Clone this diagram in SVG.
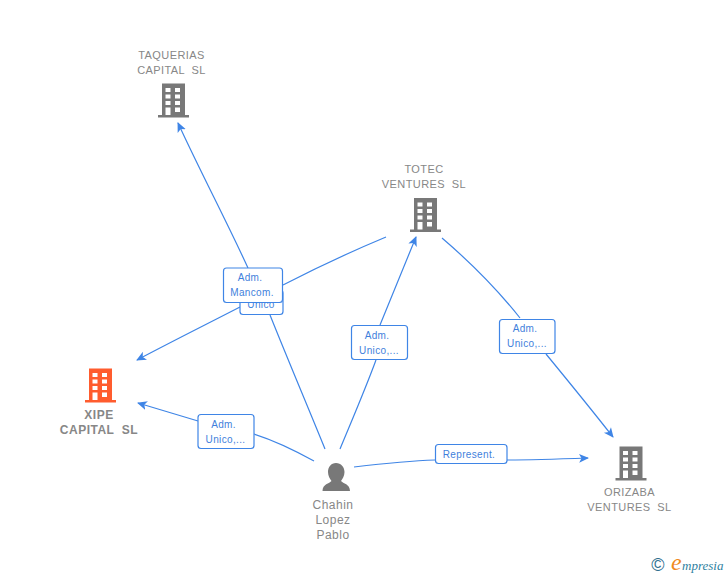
<svg xmlns="http://www.w3.org/2000/svg" width="728" height="575" viewBox="0 0 728 575">
<style>
text{font-family:"Liberation Sans",Arial,sans-serif}
.n{font-size:11px;fill:#878787;text-anchor:middle;letter-spacing:.4px}
.p{font-size:12px;letter-spacing:.5px}
.b{font-weight:bold;font-size:12px;letter-spacing:.5px}
.c{fill:none;stroke:#3f85e6;stroke-width:1.2}
.l{fill:#fff;stroke:#3f85e6;stroke-width:1.2}
.t{font-size:10px;fill:#3f7fdc;text-anchor:middle;letter-spacing:.35px}
</style>
<defs>
<marker id="a" markerUnits="userSpaceOnUse" markerWidth="12" markerHeight="12" refX="9" refY="5" orient="auto" viewBox="0 0 12 10">
<path d="M0 0.500L10 5L0 9.500L2.500 5Z" fill="#3f85e6"/>
</marker>
<path id="bld" fill-rule="evenodd" d="M4 0H27V31.500H31V34H0V31.500H4ZM7.500 4.500V8.500H12.500V4.500ZM17 4.500V8.500H22V4.500ZM7.500 11V15H12.500V11ZM17 11V15H22V11ZM7.500 17.500V21.500H12.500V17.500ZM17 17.500V21.500H22V17.500ZM7.500 24V31.500H12.500V24ZM17 24V28.500H22V24Z"/>
</defs>
<g id="connectors">
<path class="c" marker-end="url(#a)" d="M325 449C310 412 288 360 270 315M248 268C226 220 202 175 178 123"/>
<path class="c" marker-end="url(#a)" d="M386 237C350 252 316 268 283 285M240 307C205 325 171 342 137 360"/>
<path class="c" marker-end="url(#a)" d="M314 461C296 451 276 441 254 434M198 421C178 415 158 409 138 403"/>
<path class="c" marker-end="url(#a)" d="M340 449C352 420 365 390 376 360M380 325C392 295 404 266 416 237"/>
<path class="c" marker-end="url(#a)" d="M442 238C470 262 497 289 520 318M546 354C569 382 591 409 613 437"/>
<path class="c" marker-end="url(#a)" d="M354 467C380 464 408 461 435 460M507 460C534 460 561 459 588 458"/>
</g>
<g id="node-taquerias">
<text class="n" x="171.500" y="59">TAQUERIAS</text>
<text class="n" x="171.500" y="74" xml:space="preserve">CAPITAL  SL</text>
<use href="#bld" x="158" y="83.500" fill="#787878"/>
</g>
<g id="node-totec">
<text class="n" x="424" y="173">TOTEC</text>
<text class="n" x="424" y="188" xml:space="preserve">VENTURES  SL</text>
<use href="#bld" x="410" y="198" fill="#787878"/>
</g>
<g id="node-xipe">
<use href="#bld" x="85" y="368.500" fill="#ff5c2e"/>
<text class="n b" x="99" y="419">XIPE</text>
<text class="n b" x="99" y="434" xml:space="preserve">CAPITAL  SL</text>
</g>
<g id="node-orizaba">
<use href="#bld" x="615.500" y="446.500" fill="#787878"/>
<text class="n" x="629.500" y="496">ORIZABA</text>
<text class="n" x="629.500" y="511" xml:space="preserve">VENTURES  SL</text>
</g>
<g id="node-chahin">
<path d="M336 463C341 463 344.500 467 344.500 472C344.500 476 342.500 479 341 481C343 483.500 350 484 350 491H322.500C322.500 484 329.500 483.500 331.500 481C330 479 328 476 328 472C328 467 331 463 336 463Z" fill="#787878"/>
<text class="n p" x="333" y="508.500">Chahin</text>
<text class="n p" x="333" y="523.500">Lopez</text>
<text class="n p" x="333" y="538.500">Pablo</text>
</g>
<g id="label-unico">
<rect class="l" x="240" y="290" width="43" height="24.500" rx="3"/>
<text class="t" x="261" y="308">Unico</text>
</g>
<g id="label-mancom">
<rect class="l" x="223.500" y="268" width="59" height="34.500" rx="3"/>
<text class="t" x="250" y="281">Adm.</text>
<text class="t" x="252" y="296">Mancom.</text>
</g>
<g id="label-xipe">
<rect class="l" x="198" y="414.500" width="56" height="34" rx="3"/>
<text class="t" x="223.500" y="428">Adm.</text>
<text class="t" x="225.500" y="443">Unico,...</text>
</g>
<g id="label-totec">
<rect class="l" x="351.500" y="325.500" width="56" height="34" rx="3"/>
<text class="t" x="377" y="339">Adm.</text>
<text class="t" x="379" y="354">Unico,...</text>
</g>
<g id="label-orizaba">
<rect class="l" x="499.500" y="319.500" width="55.500" height="34" rx="3"/>
<text class="t" x="525" y="332">Adm.</text>
<text class="t" x="527" y="347">Unico,...</text>
</g>
<g id="label-represent">
<rect class="l" x="435.500" y="444.500" width="71.500" height="19" rx="3"/>
<text class="t" x="469" y="458">Represent.</text>
</g>
<g id="logo">
<text x="658" y="570.500" font-size="18" fill="#2f6f8f" text-anchor="middle">©</text>
<text x="671" y="570" font-size="24" fill="#f08a1d" style="font-family:'Liberation Serif',serif;font-style:italic">e</text>
<text x="682" y="570" font-size="13" fill="#2f7f9f" style="font-family:'Liberation Serif',serif;font-style:italic">mpresia</text>
</g>
</svg>
